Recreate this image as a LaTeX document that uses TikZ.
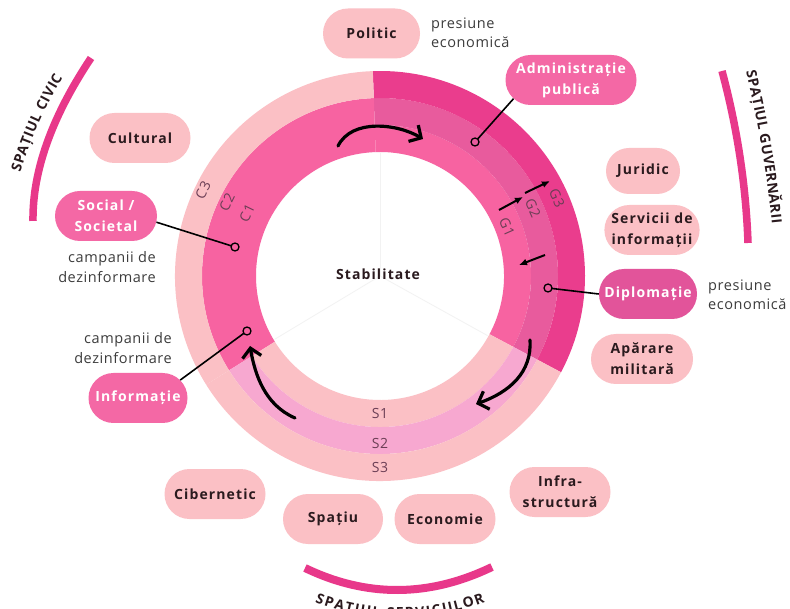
\documentclass[tikz,border=0pt]{standalone}
\usepackage{fontspec}
\setmainfont{Open Sans}
\newfontfamily\lblf[LetterSpace=8]{Open Sans}
\newfontfamily\txtf[LetterSpace=4]{Open Sans}
\newfontfamily\arcf{Open Sans}
\usetikzlibrary{shapes.misc,arrows.meta,decorations.text}

\definecolor{lpink}{HTML}{FBC0C5}
\definecolor{hpink}{HTML}{F763A1}
\definecolor{gmid}{HTML}{E85B9D}
\definecolor{gdark}{HTML}{EA3D8D}
\definecolor{spink}{HTML}{F7A8D0}
\definecolor{nodehot}{HTML}{F468A5}
\definecolor{nodedip}{HTML}{E2549A}
\definecolor{arcpink}{HTML}{E8388A}
\definecolor{ringtxt}{HTML}{6B3E55}
\definecolor{darktxt}{HTML}{2A1A1E}
\definecolor{graytxt}{HTML}{3C3C3C}

\newcommand{\annsec}[5]{\fill[#1] ([shift={(O)}]#2:#4) arc[start angle=#2,end angle=#3,radius=#4] -- ([shift={(O)}]#3:#5) arc[start angle=#3,end angle=#2,radius=#5] -- cycle;}

\tikzset{
  pill/.style={rounded rectangle, minimum height=50pt, inner sep=0pt, align=center, font=\lblf\bfseries\fontsize{14}{21}\selectfont},
  plight/.style={pill, fill=lpink, text=darktxt},
  phot/.style={pill, fill=nodehot, text=white},
  pdip/.style={pill, fill=nodedip, text=white},
  side/.style={inner sep=0pt, text=graytxt, font=\txtf\fontsize{14.5}{19.5}\selectfont},
  ringlbl/.style={inner sep=0pt, text=ringtxt, font=\txtf\fontsize{14}{16}\selectfont},
  faint/.style={draw=black!5, line width=0.8pt},
  conn/.style={draw=black, line width=1.6pt, shorten >=4pt},
  dot/.style={draw=black, line width=1.3pt},
  bigarrow/.style={draw=black, line width=3.2pt, line cap=round, -{Straight Barb[length=9pt,width=19pt]}},
  smallarrow/.style={draw=black, line width=2pt, -{Latex[length=8pt,width=7pt]}},
  arcband/.style={draw=arcpink, line width=7.5pt},
  arctext/.style={decorate, decoration={text along path, text align=fit to path, text color=darktxt, text={|\arcf\bfseries\fontsize{14}{16}\selectfont|#1}}},
}

\begin{document}
\begin{tikzpicture}[x=1pt,y=1pt]
\useasboundingbox (0,0) rectangle (790,-609);
\clip (0,0) rectangle (790,-609);
\fill[white] (0,0) rectangle (790,-609);

\coordinate (O) at (380,-276);

% ring sectors
\annsec{hpink}{-28}{92}{124}{151}
\annsec{gmid}{-28}{92}{151}{178}
\annsec{gdark}{-28}{92}{178}{205}
\annsec{hpink}{92}{212}{124}{178}
\annsec{lpink}{92}{212}{178}{205}
\annsec{lpink}{212}{332}{124}{151}
\annsec{spink}{212}{332}{151}{178}
\annsec{lpink}{212}{332}{178}{205}

% faint dividers
\draw[faint] (O) -- ([shift={(O)}]90:123);
\draw[faint] (O) -- ([shift={(O)}]211:123);
\draw[faint] (O) -- ([shift={(O)}]-29:123);

\node[font=\lblf\bfseries\fontsize{14}{16}\selectfont, text=darktxt] (stab) at (378,-274) {Stabilitate};

% ring labels
\node[ringlbl, rotate=64] (c3) at (203,-190) {C3};
\node[ringlbl, rotate=64] (c2) at (227,-202) {C2};
\node[ringlbl, rotate=64] (c1) at (247,-213) {C1};
\node[ringlbl, rotate=-66] (g3) at (557,-198) {G3};
\node[ringlbl, rotate=-66] (g2) at (533,-208) {G2};
\node[ringlbl, rotate=-66] (g1) at (507,-227) {G1};
\node[ringlbl] (s1) at (380,-414) {S1};
\node[ringlbl] (s2) at (380,-443) {S2};
\node[ringlbl] (s3) at (380,-467) {S3};

% curved arrows
\coordinate (ta1) at (338,-146);
\coordinate (ta2) at (423,-139);
\draw[bigarrow] (ta1) .. controls (352,-118) and (398,-124) .. (ta2);
\coordinate (ra1) at (530,-340);
\coordinate (ra2) at (476,-404);
\draw[bigarrow] (ra1) .. controls (532,-372) and (510,-392) .. (ra2);
\coordinate (la1) at (295,-418);
\coordinate (la2) at (250,-346);
\draw[bigarrow] (la1) .. controls (265,-405) and (255,-375) .. (la2);

% small arrows in G sector
\coordinate (sa1) at (499,-210); \coordinate (sa2) at (523,-197);
\coordinate (sb1) at (525,-193); \coordinate (sb2) at (550,-181);
\coordinate (sc1) at (545,-255); \coordinate (sc2) at (519,-265);
\draw[smallarrow] (sa1) -- (sa2);
\draw[smallarrow] (sb1) -- (sb2);
\draw[smallarrow] (sc1) -- (sc2);

% outer arcs
\draw[arcband] (91,-58) .. controls (51.67,-117) and (32.33,-171.33) .. (33,-221);
\draw[arcband] (722,-71) .. controls (737.33,-128.33) and (746,-185.67) .. (748,-243);
\draw[arcband, line width=8pt] (305,-568) .. controls (366.67,-597.67) and (429,-597.33) .. (492,-567);

\path[arctext={SPAȚIUL CIVIC}] ([shift={(O)}]164:374) arc[start angle=164,end angle=148,radius=374];
\path[arctext={SPAȚIUL GUVERNĂRII}] (746,-72) .. controls (758.67,-125.33) and (767.33,-176) .. (772,-224);
\path[arctext={SPAȚIUL SERVICIILOR}] (315,-602) .. controls (371.67,-623.33) and (428.33,-623.33) .. (485,-602);

% nodes
\node[plight, minimum width=97pt] (pol) at (371.5,-33.5) {Politic};
\node[phot, minimum width=131pt] (adm) at (571,-80) {Administrație\\publică};
\node[plight, minimum width=101pt] (cul) at (140,-138) {Cultural};
\node[phot, minimum width=102pt] (soc) at (106,-216) {Social /\\Societal};
\node[phot, minimum width=99pt] (inf) at (138,-398) {Informație};
\node[plight, minimum width=74pt, minimum height=46pt] (jur) at (643,-171) {Juridic};
\node[plight, minimum width=95pt] (ser) at (652,-230) {Servicii de\\informații};
\node[pdip, minimum width=98pt] (dip) at (648,-294) {Diplomație};
\node[plight, minimum width=102pt] (apa) at (642,-359) {Apărare\\militară};
\node[plight, minimum width=101pt] (cib) at (215,-494) {Cibernetic};
\node[plight, minimum width=100pt] (spa) at (333,-519) {Spațiu};
\node[plight, minimum width=101pt] (eco) at (445,-519) {Economie};
\node[plight, minimum width=101pt] (inr) at (560,-492) {Infra-\\structură};

% side texts
\node[side, anchor=west, align=left] (pe1) at (431,-33) {presiune\\economică};
\node[side, anchor=west, align=left] (pe2) at (708,-295) {presiune\\economică};
\node[side, anchor=east, align=right] (cd1) at (156,-267) {campanii de\\dezinformare};
\node[side, anchor=east, align=right] (cd2) at (172,-348) {campanii de\\dezinformare};

% connectors
\coordinate (cadm) at (475,-142);
\coordinate (csoc) at (235,-247);
\coordinate (cinf) at (247,-331);
\coordinate (cdip) at (548,-288);
\draw[conn] (adm.198) -- (cadm);
\draw[conn] (soc.-7) -- (csoc);
\draw[conn] (inf.23) -- (cinf);
\draw[conn] (dip.west) -- (cdip);
\draw[dot] (cadm) circle[radius=4];
\draw[dot] (csoc) circle[radius=4];
\draw[dot] (cinf) circle[radius=4];
\draw[dot] (cdip) circle[radius=4];
\end{tikzpicture}
\end{document}
